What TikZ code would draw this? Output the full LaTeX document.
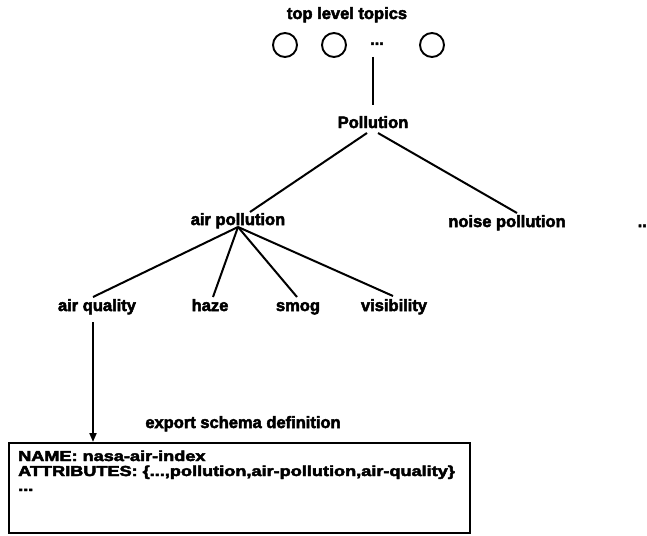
\documentclass[tikz,border=0pt]{standalone}
\usepackage{fontspec}
\setmainfont{Liberation Sans}[BoldFeatures={FakeBold=3}]
\usetikzlibrary{arrows.meta}
\begin{document}
\begin{tikzpicture}[x=1pt,y=-1pt,
  lbl/.style={font=\fontsize{16.5}{18}\selectfont\bfseries, inner sep=0pt, anchor=base},
  boxtxt/.style={font=\fontsize{14.5}{15}\selectfont\bfseries, inner sep=0pt, anchor=base west},
  edge/.style={line width=2pt},
  topic/.style={circle, draw, line width=1.9pt, minimum size=24pt, inner sep=0pt}]
\useasboundingbox (0,0) rectangle (647,535);

% top level
\node[lbl] (top) at (347,19) {top level topics};
\node[topic] (t1) at (285,45) {};
\node[topic] (t2) at (334,45) {};
\node[lbl] (tdots) at (377,45) {...};
\node[topic] (t3) at (432,45) {};

\coordinate (tlink) at (373,57);
\coordinate (tlinkend) at (373,105);
\node[lbl] (poll) at (373,128) {Pollution};
\draw[edge] (tlink) -- (tlinkend);

% second level
\node[lbl] (air) at (238,225) {air pollution};
\node[lbl] (noise) at (507,227) {noise pollution};
\node[lbl, anchor=base east] (more) at (647,227) {..};

\coordinate (pl) at (367,133);
\coordinate (pr) at (378,133);
\coordinate (airin) at (250,212);
\coordinate (noisein) at (517,213);
\draw[edge] (pl) -- (airin);
\draw[edge] (pr) -- (noisein);

% third level
\node[lbl] (aq) at (97,311) {air quality};
\node[lbl] (haze) at (210,311) {haze};
\node[lbl] (smog) at (298,311) {smog};
\node[lbl] (vis) at (394,311) {visibility};

\coordinate (hub) at (238,227);
\coordinate (aqin) at (93,297);
\coordinate (hazein) at (213,297);
\coordinate (smogin) at (297,297);
\coordinate (visin) at (393,296);
\draw[edge] (hub) -- (aqin);
\draw[edge] (hub) -- (hazein);
\draw[edge] (hub) -- (smogin);
\draw[edge] (hub) -- (visin);

% export schema
\node[lbl] (exlabel) at (243,428) {export schema definition};
\node[draw, line width=1.7pt, minimum width=461pt, minimum height=90pt,
      anchor=north west, inner sep=0pt] (schema) at (8,442) {};
\node[boxtxt] (l1) at (18,461) {\scalebox{1.25}[1]{NAME: nasa-air-index}};
\node[boxtxt] (l2) at (18,476) {\scalebox{1.25}[1]{ATTRIBUTES: \{...,pollution,air-pollution,air-quality\}}};
\node[boxtxt] (l3) at (18,491) {\scalebox{1.25}[1]{...}};

\coordinate (aqout) at (93,322);
\draw[edge, -{Triangle[length=9pt,width=7pt]}] (aqout) -- (aqout |- schema.north);
\end{tikzpicture}
\end{document}
